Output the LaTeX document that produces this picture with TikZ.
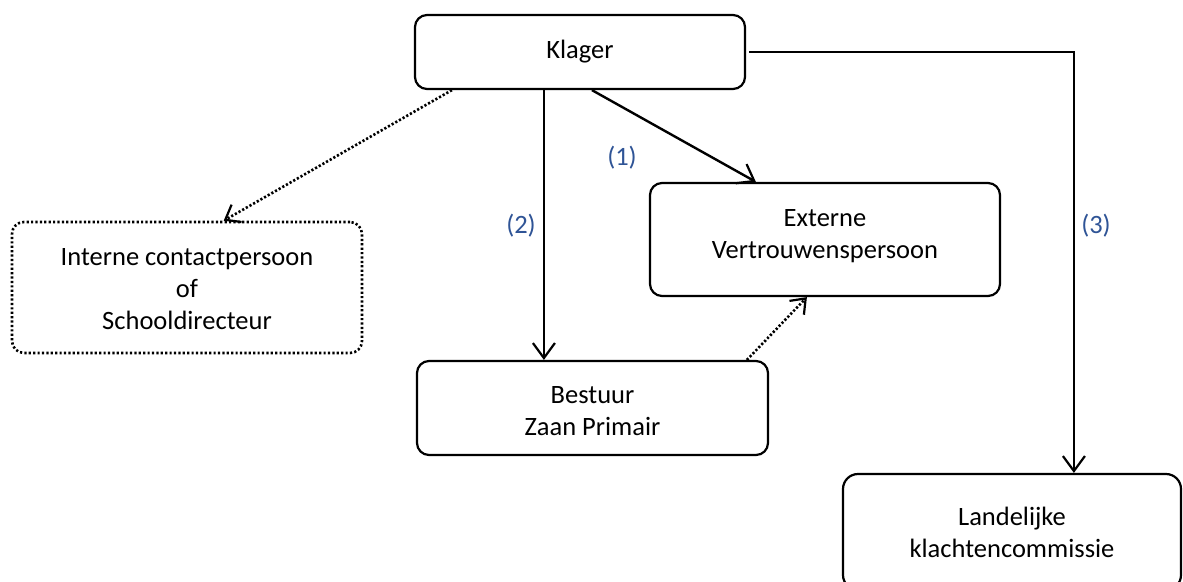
\documentclass[tikz,border=0pt]{standalone}
\usepackage{fontspec}
\setmainfont{Carlito}
\usetikzlibrary{arrows.meta}
\definecolor{lblblue}{RGB}{47,84,150}
\newcommand{\mysz}{\fontsize{26.5pt}{32pt}\selectfont}
\tikzset{
  box/.style={draw, line width=2.2pt, rounded corners=12pt, align=center, font=\mysz, inner sep=0pt},
  dotbox/.style={box, line width=2.6pt, dash pattern=on 2.2pt off 2.2pt},
  conn/.style={line width=2.4pt, -{Straight Barb[length=15pt,width=22pt,line width=2.2pt]}},
  dotconn/.style={line width=2.6pt, dash pattern=on 2.2pt off 2pt, -{Straight Barb[length=13pt,width=20pt,line width=2.2pt,sep=0pt]}},
  lbl/.style={font=\mysz, text=lblblue, inner sep=0pt}
}
\begin{document}
\begin{tikzpicture}[x=1pt,y=-1pt]
\useasboundingbox (0,0) rectangle (1183,581);
\clip (0,0) rectangle (1183,581);
\node[box, minimum width=330pt, minimum height=74pt] (klager) at (580,52) {\raisebox{3pt}{Klager}};
\node[dotbox, minimum width=350pt, minimum height=131pt] (interne) at (187,287.5) {\rule{0pt}{20pt}Interne contactpersoon\\of\\Schooldirecteur};
\node[box, minimum width=350pt, minimum height=113pt] (externe) at (825,239.5) {Externe\\Vertrouwenspersoon\rule[-12pt]{0pt}{1pt}};
\node[box, minimum width=351pt, minimum height=94pt] (bestuur) at (592.5,408) {\rule{0pt}{24pt}Bestuur\\Zaan Primair};
\node[box, rounded corners=15pt, minimum width=338pt, minimum height=116pt] (landelijke) at (1012,532) {Landelijke\\klachtencommissie};
\node[lbl] (l1) at (622,158) {(1)};
\node[lbl] (l2) at (521,226) {(2)};
\node[lbl] (l3) at (1096,226) {(3)};
\draw[dotconn] ([xshift=38pt]klager.south west) -- ([xshift=213pt]interne.north west);
\draw[conn] ([xshift=130pt]klager.south west) -- ([xshift=130pt]klager.south west |- bestuur.north);
\draw[conn] ([xshift=178pt]klager.south west) -- ([xshift=107pt]externe.north west);
\draw[conn] ([xshift=3pt]klager.east) -| ([xshift=232pt]landelijke.north west);
\draw[dotconn] ([xshift=331pt]bestuur.north west) -- ([xshift=158pt]externe.south west);
\end{tikzpicture}
\end{document}
